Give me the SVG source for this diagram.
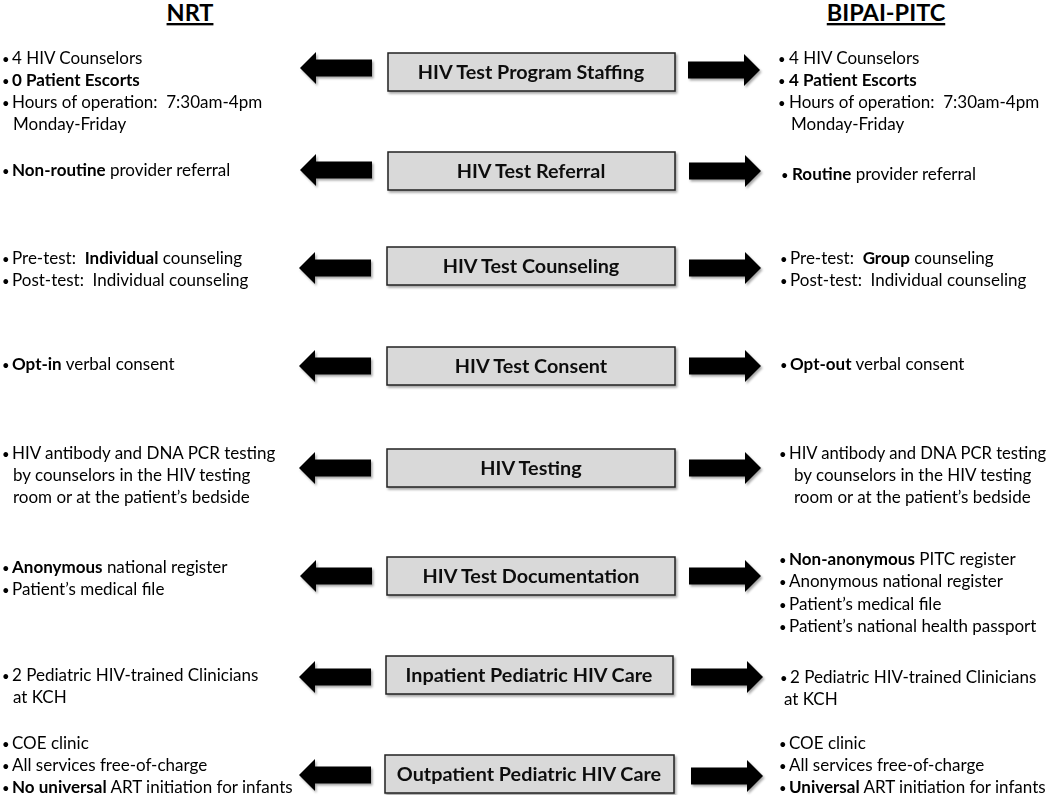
<svg xmlns="http://www.w3.org/2000/svg" width="1050" height="795" viewBox="0 0 1050 795">
<style>
.t{font-family:Lato,"Noto Sans",sans-serif;font-size:17px;fill:#000;white-space:pre}
.d{font-family:Lato,"Noto Sans",sans-serif;font-size:13px;fill:#000}
.b{font-weight:bold}
.box{fill:#d9d9d9;stroke:#222;stroke-width:1.5}
.lbl{font-family:Lato,"Noto Sans",sans-serif;font-size:19.8px;font-weight:bold;fill:#111;text-anchor:middle}
.hd{font-family:Lato,"Noto Sans",sans-serif;font-size:23.5px;font-weight:bold;fill:#000;text-anchor:middle;text-decoration:underline}
.arr{fill:#000}
</style>
<defs>
<filter id="sh" x="-10%" y="-20%" width="130%" height="150%">
<feDropShadow dx="1.5" dy="2" stdDeviation="1.2" flood-color="#000" flood-opacity="0.35"/>
</filter>
<path id="la" d="M0,0 L16,-16 L16,-8.5 L72,-8.5 L72,8.5 L16,8.5 L16,16 Z"/>
<path id="ra" d="M72,0 L56,-16 L56,-8.5 L0,-8.5 L0,8.5 L56,8.5 L56,16 Z"/>
</defs>
<rect width="1050" height="795" fill="#fff"/>

<g id="headers">
<text class="hd" x="190" y="21">NRT</text>
<text class="hd" x="886" y="21">BIPAI-PITC</text>
</g>

<g id="connectors" filter="url(#sh)">
<use href="#la" class="arr" x="300" y="68"/>
<use href="#ra" class="arr" x="688" y="70"/>
<use href="#la" class="arr" x="300" y="170"/>
<use href="#ra" class="arr" x="689" y="171"/>
<use href="#la" class="arr" x="299" y="268"/>
<use href="#ra" class="arr" x="689" y="268"/>
<use href="#la" class="arr" x="299" y="366"/>
<use href="#ra" class="arr" x="689" y="366"/>
<use href="#la" class="arr" x="299" y="468"/>
<use href="#ra" class="arr" x="689" y="468"/>
<use href="#la" class="arr" x="300" y="576"/>
<use href="#ra" class="arr" x="689" y="576"/>
<use href="#la" class="arr" x="299" y="677"/>
<use href="#ra" class="arr" x="691" y="677"/>
<use href="#la" class="arr" x="299" y="775"/>
<use href="#ra" class="arr" x="691" y="776"/>
</g>

<g id="node-staffing" filter="url(#sh)"><rect class="box" x="388" y="53" width="287" height="38"/><text class="lbl" x="531" y="79">HIV Test Program Staffing</text></g>
<g id="node-referral" filter="url(#sh)"><rect class="box" x="388" y="152" width="287" height="38"/><text class="lbl" x="531" y="178">HIV Test Referral</text></g>
<g id="node-counseling" filter="url(#sh)"><rect class="box" x="387" y="247" width="288" height="38"/><text class="lbl" x="531" y="273">HIV Test Counseling</text></g>
<g id="node-consent" filter="url(#sh)"><rect class="box" x="387" y="347" width="288" height="38"/><text class="lbl" x="531" y="373">HIV Test Consent</text></g>
<g id="node-testing" filter="url(#sh)"><rect class="box" x="387" y="449" width="288" height="38"/><text class="lbl" x="531" y="475">HIV Testing</text></g>
<g id="node-documentation" filter="url(#sh)"><rect class="box" x="387" y="557" width="288" height="38"/><text class="lbl" x="531" y="583">HIV Test Documentation</text></g>
<g id="node-inpatient" filter="url(#sh)"><rect class="box" x="386" y="656" width="287" height="38"/><text class="lbl" x="529" y="682">Inpatient Pediatric HIV Care</text></g>
<g id="node-outpatient" filter="url(#sh)"><rect class="box" x="385" y="755" width="289" height="38"/><text class="lbl" x="529" y="781">Outpatient Pediatric HIV Care</text></g>

<g id="nrt-staffing">
<text class="d" x="2" y="64">•</text><text class="t" x="12" y="64">4 HIV Counselors</text>
<text class="d" x="2" y="86">•</text><text class="t b" x="12" y="86">0 Patient Escorts</text>
<text class="d" x="2" y="108">•</text><text class="t" x="12" y="108">Hours of operation:  7:30am-4pm</text>
<text class="t" x="13" y="130">Monday-Friday</text>
</g>
<g id="nrt-referral">
<text class="d" x="2" y="176">•</text><text class="t" x="12" y="176"><tspan class="b">Non-routine</tspan> provider referral</text>
</g>
<g id="nrt-counseling">
<text class="d" x="2" y="264">•</text><text class="t" x="12" y="264">Pre-test:  <tspan class="b">Individual</tspan> counseling</text>
<text class="d" x="2" y="286">•</text><text class="t" x="12" y="286">Post-test:  Individual counseling</text>
</g>
<g id="nrt-consent">
<text class="d" x="2" y="370">•</text><text class="t" x="12" y="370"><tspan class="b">Opt-in</tspan> verbal consent</text>
</g>
<g id="nrt-testing">
<text class="d" x="2" y="459">•</text><text class="t" x="12" y="459">HIV antibody and DNA PCR testing</text>
<text class="t" x="13" y="481">by counselors in the HIV testing</text>
<text class="t" x="13" y="503">room or at the patient’s bedside</text>
</g>
<g id="nrt-documentation">
<text class="d" x="2" y="573">•</text><text class="t" x="12" y="573"><tspan class="b">Anonymous</tspan> national register</text>
<text class="d" x="2" y="595">•</text><text class="t" x="12" y="595">Patient’s medical file</text>
</g>
<g id="nrt-inpatient">
<text class="d" x="2" y="681">•</text><text class="t" x="12" y="681">2 Pediatric HIV-trained Clinicians</text>
<text class="t" x="13" y="703">at KCH</text>
</g>
<g id="nrt-outpatient">
<text class="d" x="2" y="749">•</text><text class="t" x="12" y="749">COE clinic</text>
<text class="d" x="2" y="771">•</text><text class="t" x="12" y="771">All services free-of-charge</text>
<text class="d" x="2" y="793">•</text><text class="t" x="12" y="793"><tspan class="b">No universal</tspan> ART initiation for infants</text>
</g>

<g id="pitc-staffing">
<text class="d" x="778" y="64">•</text><text class="t" x="789" y="64">4 HIV Counselors</text>
<text class="d" x="778" y="86">•</text><text class="t b" x="789" y="86">4 Patient Escorts</text>
<text class="d" x="778" y="108">•</text><text class="t" x="789" y="108">Hours of operation:  7:30am-4pm</text>
<text class="t" x="791" y="130">Monday-Friday</text>
</g>
<g id="pitc-referral">
<text class="d" x="781" y="180">•</text><text class="t" x="792" y="180"><tspan class="b">Routine</tspan> provider referral</text>
</g>
<g id="pitc-counseling">
<text class="d" x="780" y="264">•</text><text class="t" x="790" y="264">Pre-test:  <tspan class="b">Group</tspan> counseling</text>
<text class="d" x="780" y="286">•</text><text class="t" x="790" y="286">Post-test:  Individual counseling</text>
</g>
<g id="pitc-consent">
<text class="d" x="780" y="370">•</text><text class="t" x="790" y="370"><tspan class="b">Opt-out</tspan> verbal consent</text>
</g>
<g id="pitc-testing">
<text class="d" x="779" y="459">•</text><text class="t" x="789" y="459" style="font-size:16.6px">HIV antibody and DNA PCR testing</text>
<text class="t" x="794" y="481">by counselors in the HIV testing</text>
<text class="t" x="794" y="503">room or at the patient’s bedside</text>
</g>
<g id="pitc-documentation">
<text class="d" x="779" y="565">•</text><text class="t" x="789" y="565"><tspan class="b">Non-anonymous</tspan> PITC register</text>
<text class="d" x="779" y="587">•</text><text class="t" x="789" y="587">Anonymous national register</text>
<text class="d" x="779" y="610">•</text><text class="t" x="789" y="610">Patient’s medical file</text>
<text class="d" x="779" y="632">•</text><text class="t" x="789" y="632">Patient’s national health passport</text>
</g>
<g id="pitc-inpatient">
<text class="d" x="780" y="683">•</text><text class="t" x="790" y="683">2 Pediatric HIV-trained Clinicians</text>
<text class="t" x="784" y="705">at KCH</text>
</g>
<g id="pitc-outpatient">
<text class="d" x="779" y="749">•</text><text class="t" x="789" y="749">COE clinic</text>
<text class="d" x="779" y="771">•</text><text class="t" x="789" y="771">All services free-of-charge</text>
<text class="d" x="779" y="793">•</text><text class="t" x="789" y="793"><tspan class="b">Universal</tspan> ART initiation for infants</text>
</g>
</svg>
